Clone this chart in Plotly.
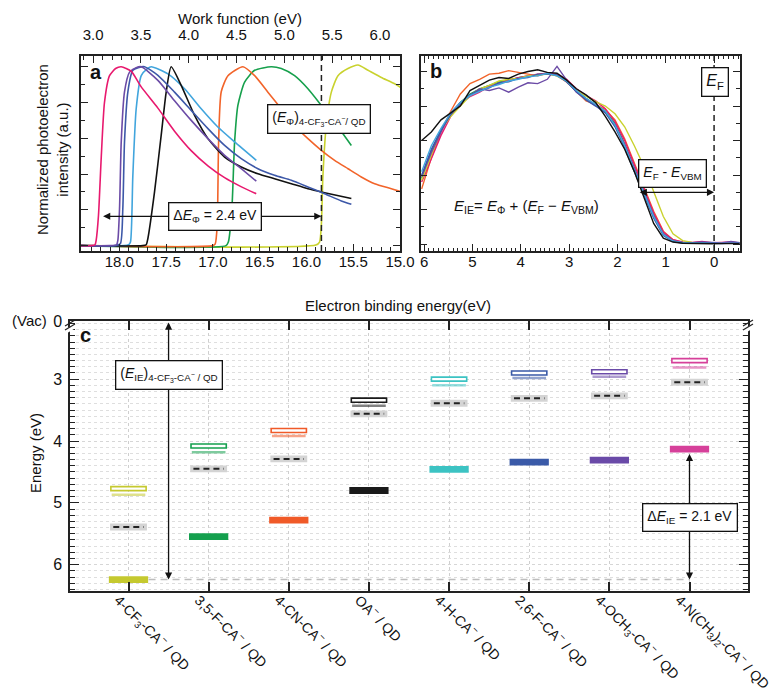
import plotly.graph_objects as go

FONT = "Liberation Sans, Arial, Helvetica, sans-serif"
W, H = 780, 700

# ---------------- Panel a: secondary-electron cutoff spectra ----------------
a_magenta_be = [18.41, 18.30, 18.26, 18.248, 18.223, 18.194, 18.159, 18.105, 18.04, 17.98, 17.874, 17.77, 17.59, 17.41, 17.23, 17.05, 16.875, 16.70, 16.537]
a_magenta_y = [0.0, 0.0, 0.005, 0.03, 0.17, 0.49, 0.80, 0.95, 0.99, 1.0, 0.975, 0.89, 0.77, 0.64, 0.53, 0.445, 0.38, 0.33, 0.29]
a_purple_be = [18.41, 18.10, 18.03, 18.016, 17.998, 17.98, 17.945, 17.891, 17.82, 17.766, 17.588, 17.41, 17.232, 17.053, 16.875, 16.697, 16.536]
a_purple_y = [0.0, 0.0, 0.005, 0.03, 0.207, 0.58, 0.86, 0.97, 0.995, 1.0, 0.924, 0.81, 0.70, 0.598, 0.505, 0.43, 0.36]
a_blue_be = [18.41, 18.05, 17.99, 17.963, 17.945, 17.909, 17.856, 17.80, 17.731, 17.588, 17.41, 17.232, 17.053, 16.875, 16.697, 16.519, 16.341, 16.162, 15.984, 15.806, 15.627, 15.52]
a_blue_y = [0.0, 0.0, 0.01, 0.207, 0.58, 0.86, 0.98, 0.995, 1.0, 0.952, 0.858, 0.756, 0.654, 0.56, 0.486, 0.43, 0.393, 0.365, 0.328, 0.29, 0.25, 0.231]
a_lblue_be = [18.41, 17.95, 17.90, 17.881, 17.856, 17.82, 17.766, 17.70, 17.659, 17.481, 17.303, 17.125, 16.947, 16.768, 16.536]
a_lblue_y = [0.0, 0.0, 0.005, 0.02, 0.39, 0.765, 0.95, 0.99, 1.0, 0.96, 0.877, 0.765, 0.663, 0.58, 0.477]
a_black_be = [18.41, 17.75, 17.713, 17.695, 17.624, 17.553, 17.499, 17.446, 17.339, 17.196, 17.053, 16.875, 16.697, 16.519, 16.341, 16.162, 15.984, 15.806, 15.52]
a_black_y = [0.0, 0.0, 0.005, 0.04, 0.30, 0.616, 0.86, 1.0, 0.896, 0.728, 0.598, 0.495, 0.44, 0.402, 0.374, 0.346, 0.318, 0.296, 0.263]
a_orange_be = [18.41, 17.0, 16.975, 16.954, 16.939, 16.911, 16.839, 16.679, 16.554, 16.412, 16.269, 16.127, 15.984, 15.841, 15.699, 15.556, 15.414, 15.271, 15.093, 14.914]
a_orange_y = [0.0, 0.0, 0.01, 0.114, 0.58, 0.86, 0.95, 1.0, 0.95, 0.858, 0.765, 0.672, 0.598, 0.533, 0.477, 0.43, 0.384, 0.346, 0.318, 0.29]
a_green_be = [18.41, 16.86, 16.835, 16.797, 16.768, 16.733, 16.661, 16.554, 16.376, 16.269, 16.127, 15.984, 15.841, 15.699, 15.52]
a_green_y = [0.0, 0.0, 0.02, 0.207, 0.58, 0.784, 0.914, 0.98, 1.0, 0.99, 0.95, 0.877, 0.784, 0.69, 0.56]
a_yellow_be = [18.41, 15.90, 15.86, 15.841, 15.824, 15.788, 15.734, 15.663, 15.556, 15.449, 15.342, 15.2, 15.057, 14.914]
a_yellow_y = [0.0, 0.003, 0.02, 0.114, 0.39, 0.672, 0.858, 0.95, 0.99, 1.01, 0.98, 0.94, 0.905, 0.858]
a_cutoff_cf3 = 15.84
a_cutoff_left = 18.19
a_xticks = [15.0, 15.5, 16.0, 16.5, 17.0, 17.5, 18.0]
a_wf_ticks = [3.0, 3.5, 4.0, 4.5, 5.0, 5.5, 6.0]
a_yticks = [0.0, 0.2, 0.4, 0.6, 0.8, 1.0]

# ---------------- Panel b: valence band spectra ----------------
b_be = [6.05, 5.85, 5.65, 5.45, 5.25, 5.05, 4.85, 4.65, 4.45, 4.25, 4.05, 3.85, 3.65, 3.45, 3.25, 3.05, 2.85,
        2.65, 2.45, 2.25, 2.05, 1.85, 1.65, 1.45, 1.25, 1.05, 0.85, 0.65, 0.45, 0.25, 0.05, -0.15, -0.35, -0.53]
b_orange = [0.32, 0.50, 0.65, 0.77, 0.87, 0.93, 0.955, 0.985, 0.99, 1.005, 0.995, 0.985, 0.975, 0.99, 0.975, 0.94, 0.885, 0.83, 0.81, 0.78, 0.72, 0.61, 0.47, 0.33, 0.19, 0.075, 0.025, 0.01, 0.008, 0.005, 0.007, 0.004, 0.006, 0.005]
b_green = [0.38, 0.54, 0.66, 0.755, 0.82, 0.87, 0.90, 0.92, 0.94, 0.95, 0.965, 0.975, 0.98, 0.99, 0.98, 0.945, 0.89, 0.845, 0.81, 0.77, 0.70, 0.58, 0.44, 0.31, 0.17, 0.06, 0.02, 0.008, 0.005, 0.004, 0.006, 0.005, 0.004, 0.006]
b_magenta = [0.36, 0.50, 0.63, 0.74, 0.81, 0.855, 0.88, 0.915, 0.93, 0.95, 0.965, 0.975, 0.985, 0.99, 0.985, 0.955, 0.90, 0.86, 0.83, 0.785, 0.71, 0.60, 0.46, 0.32, 0.18, 0.07, 0.025, 0.012, 0.01, 0.015, 0.008, 0.01, 0.012, 0.006]
b_yellow = [0.37, 0.52, 0.66, 0.74, 0.80, 0.86, 0.90, 0.92, 0.945, 0.955, 0.96, 0.975, 0.98, 0.985, 0.975, 0.945, 0.89, 0.855, 0.825, 0.80, 0.755, 0.68, 0.57, 0.45, 0.30, 0.16, 0.06, 0.02, 0.01, 0.008, 0.006, 0.008, 0.005, 0.006]
b_purple = [0.39, 0.53, 0.65, 0.76, 0.82, 0.86, 0.90, 0.89, 0.905, 0.88, 0.91, 0.935, 0.93, 0.955, 1.03, 0.95, 0.88, 0.84, 0.80, 0.765, 0.69, 0.575, 0.44, 0.305, 0.165, 0.06, 0.02, 0.01, 0.008, 0.012, 0.01, 0.007, 0.015, 0.008]
b_blue = [0.40, 0.55, 0.66, 0.75, 0.815, 0.865, 0.89, 0.905, 0.935, 0.94, 0.96, 0.965, 0.985, 0.985, 0.98, 0.94, 0.885, 0.835, 0.80, 0.76, 0.68, 0.56, 0.42, 0.29, 0.15, 0.05, 0.015, 0.006, 0.004, 0.008, 0.005, 0.003, 0.006, 0.005]
b_lblue = [0.42, 0.57, 0.67, 0.76, 0.82, 0.86, 0.885, 0.91, 0.925, 0.945, 0.955, 0.97, 0.975, 0.99, 0.975, 0.945, 0.89, 0.845, 0.81, 0.77, 0.69, 0.57, 0.43, 0.30, 0.16, 0.055, 0.018, 0.008, 0.005, 0.006, 0.004, 0.005, 0.006, 0.004]
b_black = [0.60, 0.65, 0.72, 0.76, 0.80, 0.89, 0.92, 0.95, 0.965, 0.96, 0.985, 1.00, 1.01, 0.995, 0.99, 0.95, 0.90, 0.865, 0.82, 0.74, 0.65, 0.55, 0.42, 0.27, 0.12, 0.035, 0.012, 0.005, 0.003, 0.004, 0.002, 0.003, 0.002, 0.003]
b_fermi = 0.0
b_vbm_arrow_start = 1.57
b_xticks = [0, 1, 2, 3, 4, 5, 6]
b_yticks = [0.0, 0.2, 0.4, 0.6, 0.8, 1.0]

# ---------------- Panel c: energy levels ----------------
c_labels = ["4-CF<sub>3</sub>-CA<sup>−</sup> / QD", "3,5-F-CA<sup>−</sup> / QD", "4-CN-CA<sup>−</sup> / QD",
            "OA<sup>−</sup> / QD", "4-H-CA<sup>−</sup> / QD", "2,6-F-CA<sup>−</sup> / QD",
            "4-OCH<sub>3</sub>-CA<sup>−</sup> / QD", "4-N(CH<sub>3</sub>)<sub>2</sub>-CA<sup>−</sup> / QD"]
c_pos = [0, 1, 2, 3, 4, 5, 6, 7]
c_ie = [6.24, 5.545, 5.28, 4.80, 4.46, 4.34, 4.31, 4.13]          # filled bars
c_cb = [4.77, 4.08, 3.83, 3.34, 3.00, 2.90, 2.88, 2.70]           # open rectangles
c_cb2 = [4.87, 4.18, 3.92, 3.43, 3.10, 2.98, 2.96, 2.81]          # light lines
c_ef = [5.39, 4.45, 4.29, 3.56, 3.39, 3.31, 3.27, 3.05]           # dashed gray
c_ytickvals = [2.06, 3, 4, 5, 6]
c_yticktext = ["0", "3", "4", "5", "6"]

col_a = dict(magenta="#e8196e", purple="#6b4ba6", blue="#3d58a8", lblue="#41a5dd",
             black="#111111", orange="#f2642a", green="#16a04c", yellow="#c9d22e")
col_c = ["#c5c92f", "#14a04e", "#f05a28", "#1a1a1a", "#3cc3c3", "#3a5aa8", "#6a4aa8", "#d6409a"]


def light(hx, a=0.55):
    r, g, b = int(hx[1:3], 16), int(hx[3:5], 16), int(hx[5:7], 16)
    return f"rgba({r},{g},{b},{a})"


def px(x):
    return x / W


def py(y):
    return 1 - y / H


fig = go.Figure()

# panel a traces
for be, yy, c in [(a_yellow_be, a_yellow_y, "yellow"), (a_green_be, a_green_y, "green"),
                  (a_orange_be, a_orange_y, "orange"), (a_lblue_be, a_lblue_y, "lblue"),
                  (a_black_be, a_black_y, "black"), (a_blue_be, a_blue_y, "blue"),
                  (a_purple_be, a_purple_y, "purple"), (a_magenta_be, a_magenta_y, "magenta")]:
    fig.add_trace(go.Scatter(x=be, y=yy, mode="lines", line=dict(color=col_a[c], width=1.6, shape="spline", smoothing=0.6),
                             xaxis="x", yaxis="y", showlegend=False, hoverinfo="skip"))
# invisible trace so the work-function axis is drawn
fig.add_trace(go.Scatter(x=[a_wf_ticks[0], a_wf_ticks[-1]], y=[None, None], mode="lines",
                         xaxis="x4", yaxis="y", showlegend=False, hoverinfo="skip"))

# panel b traces
for yy, c in [(b_orange, "orange"), (b_green, "green"), (b_magenta, "magenta"), (b_yellow, "yellow"),
              (b_purple, "purple"), (b_blue, "blue"), (b_lblue, "lblue"), (b_black, "black")]:
    fig.add_trace(go.Scatter(x=b_be, y=yy, mode="lines", line=dict(color=col_a[c], width=1.4),
                             xaxis="x2", yaxis="y2", showlegend=False, hoverinfo="skip"))

# panel c traces
fig.add_trace(go.Bar(x=c_pos, y=[0.11] * 8, base=[v - 0.055 for v in c_ef], width=0.46,
                     marker=dict(color="#d4d4d4", line=dict(width=0)), xaxis="x3", yaxis="y3",
                     showlegend=False, hoverinfo="skip"))
dx, dy = [], []
for i, v in zip(c_pos, c_ef):
    dx += [i - 0.19, i + 0.19, None]
    dy += [v, v, None]
fig.add_trace(go.Scatter(x=dx, y=dy, mode="lines", line=dict(color="#222", width=2, dash="6px,4px"),
                         xaxis="x3", yaxis="y3", showlegend=False, hoverinfo="skip"))
fig.add_trace(go.Bar(x=c_pos, y=[0.04] * 8, base=[v - 0.02 for v in c_cb2], width=0.42,
                     marker=dict(color=[light(c) for c in col_c], line=dict(width=0)),
                     xaxis="x3", yaxis="y3", showlegend=False, hoverinfo="skip"))
fig.add_trace(go.Bar(x=c_pos, y=[0.065] * 8, base=[v - 0.0325 for v in c_cb], width=0.44,
                     marker=dict(color="white", line=dict(width=1.6, color=col_c)),
                     xaxis="x3", yaxis="y3", showlegend=False, hoverinfo="skip"))
fig.add_trace(go.Bar(x=c_pos, y=[0.11] * 8, base=[v - 0.055 for v in c_ie], width=0.49,
                     marker=dict(color=col_c, line=dict(width=0)),
                     xaxis="x3", yaxis="y3", showlegend=False, hoverinfo="skip"))

LC = "#222"
tickfont = dict(family=FONT, size=15, color="#111")
NOGRID = "rgba(0,0,0,0)"


def axis(**kw):
    d = dict(showline=True, linecolor=LC, linewidth=1.5, ticks="inside", tickcolor=LC, tickwidth=1.2,
             showgrid=True, gridcolor=NOGRID, zeroline=False, automargin=False, tickfont=tickfont,
             tickmode="array")
    d.update(kw)
    return d


def minor(dt, t0=0, ln=4, **kw):
    d = dict(ticks="inside", ticklen=ln, tickmode="linear", dtick=dt, tick0=t0, tickcolor=LC, tickwidth=1,
             showgrid=True, gridcolor=NOGRID)
    d.update(kw)
    return d


dom_a_x = [px(73), px(392)]
dom_b_x = [px(412.7), px(731.7)]
dom_ab_y = [py(243), py(48)]
dom_c_x = [px(62), px(740)]
dom_c_y = [py(582.7), py(313)]

fig.update_layout(
    width=W, height=H, template="none", margin=dict(l=0, r=0, t=0, b=0),
    paper_bgcolor="white", plot_bgcolor="white", barmode="overlay", showlegend=False,
    font=dict(family=FONT, size=15, color="#111"),
    xaxis=axis(domain=dom_a_x, anchor="y", range=[18.41, 15.0], tickvals=a_xticks,
               ticktext=[f"{v:.1f}" for v in a_xticks], ticklen=7, mirror=True, ticklabelstandoff=-4,
               minor=minor(0.1, 15)),
    xaxis4=axis(overlaying="x", side="top", anchor="y", range=[2.874, 6.209], tickvals=a_wf_ticks,
                ticktext=[f"{v:.1f}" for v in a_wf_ticks], ticklen=7, ticklabelstandoff=8,
                minor=minor(0.1, 0)),
    yaxis=axis(domain=dom_ab_y, anchor="x", range=[-0.03, 1.06], tickvals=a_yticks, ticklen=7,
               showticklabels=False, mirror="ticks", minor=minor(0.1, 0)),
    xaxis2=axis(domain=dom_b_x, anchor="y2", range=[6.07, -0.53], tickvals=b_xticks,
                ticktext=[str(v) for v in b_xticks], ticklen=7, mirror="ticks", ticklabelstandoff=-4,
                minor=minor(0.1, 0, 3)),
    yaxis2=axis(domain=dom_ab_y, anchor="x2", range=[-0.04, 1.09], tickvals=b_yticks, ticklen=7,
                showticklabels=False, mirror="ticks", minor=minor(0.1, 0)),
    xaxis3=axis(domain=dom_c_x, anchor="y3", range=[-0.73, 7.73], tickvals=c_pos, ticktext=c_labels,
                tickangle=45, ticklen=9, tickwidth=1.5, mirror="ticks", ticklabeloverflow="allow",
                ticklabelshift=-10, ticklabelstandoff=-6,
                tickfont=dict(family=FONT, size=14, color="#111"),
                showgrid=True, gridcolor="#cfcfcf", griddash="dot", gridwidth=1),
    yaxis3=axis(domain=dom_c_y, anchor="x3", range=[6.42, 2.06], tickvals=c_ytickvals,
                ticktext=c_yticktext, ticklen=9, mirror="ticks", ticklabelstandoff=3,
                tickfont=dict(family=FONT, size=16, color="#111"),
                showgrid=True, gridcolor="#d6d6d6", griddash="dot", gridwidth=1,
                minor=minor(0.1, 0, 5, showgrid=True, gridcolor="#dedede", griddash="dot", gridwidth=1)),
)

shapes = [
    dict(type="line", xref="x", yref="y domain", x0=a_cutoff_cf3, x1=a_cutoff_cf3, y0=0, y1=1,
         line=dict(color="#222", width=1.5, dash="6px,4px")),
    dict(type="line", xref="x2", yref="y2 domain", x0=b_fermi, x1=b_fermi, y0=0, y1=1,
         line=dict(color="#222", width=1.5, dash="6px,4px")),
    dict(type="line", xref="x3", yref="y3", x0=0.25, x1=7.0, y0=c_ie[0], y1=c_ie[0],
         line=dict(color="#bdbdbd", width=1.5, dash="7px,5px")),
]
# axis break marks on panel c
for xc in (62, 740):
    shapes.append(dict(type="line", xref="paper", yref="paper", x0=px(xc - 5), x1=px(xc + 5),
                       y0=py(324), y1=py(318), line=dict(color="white", width=4)))
    for off in (0, 4):
        shapes.append(dict(type="line", xref="paper", yref="paper", x0=px(xc - 5), x1=px(xc + 5),
                           y0=py(322 + off - 4), y1=py(316 + off - 4), line=dict(color="#222", width=1.2)))
fig.update_layout(shapes=shapes)

ann = []


def text(x, y, t, size=15, **kw):
    d = dict(x=x, y=y, text=t, showarrow=False, font=dict(family=FONT, size=size, color="#111"),
             xref="paper", yref="paper", xanchor="center", yanchor="middle")
    d.update(kw)
    ann.append(d)


text(px(232), py(11), "Work function (eV)", 15)
text(px(390), py(297), "Electron binding energy(eV)", 15)
text(px(44), py(142), "Normalized photoelectron<br>intensity (a.u.)", 15, textangle=-90)
text(px(27), py(445), "Energy (eV)", 15, textangle=-90)
text(px(21), py(313), "(Vac)", 15)
text(px(88), py(64), "<b>a</b>", 20)
text(px(428), py(63), "<b>b</b>", 20)
text(px(77), py(327), "<b>c</b>", 20)

box = dict(bordercolor="#111", borderwidth=1.3, bgcolor="white", borderpad=4)

# panel a
ann.append(dict(x=a_cutoff_cf3, y=0.164, ax=a_cutoff_left, ay=0.164, xref="x", yref="y", axref="x", ayref="y",
                text="", showarrow=True, arrowhead=2, startarrowhead=2, arrowside="end+start",
                arrowwidth=1.3, arrowsize=1.1, arrowcolor="#111"))
text(16.98, 0.164, "Δ<i>E</i><sub>Φ</sub> = 2.4 eV", 14, xref="x", yref="y", **box)
text(15.87, 0.71, "(<i>E</i><sub>Φ</sub>)<sub>4-CF<sub>3</sub>-CA<sup>−</sup>/ QD</sub>", 14, xref="x", yref="y", **box)

# panel b
ann.append(dict(x=b_fermi, y=0.30, ax=b_vbm_arrow_start, ay=0.30, xref="x2", yref="y2", axref="x2", ayref="y2",
                text="", showarrow=True, arrowhead=2, startarrowhead=2, arrowside="end+start",
                arrowwidth=1.3, arrowsize=1.1, arrowcolor="#111"))
text(0.865, 0.41, "<i>E</i><sub>F</sub> - <i>E</i><sub>VBM</sub>", 14, xref="x2", yref="y2", **box)
text(-0.01, 0.94, "<i>E</i><sub>F</sub>", 16, xref="x2", yref="y2", **box)
text(3.89, 0.22, "<i>E</i><sub>IE</sub>= <i>E</i><sub>Φ</sub> + (<i>E</i><sub>F</sub> − <i>E</i><sub>VBM</sub>)", 15,
     xref="x2", yref="y2")

# panel c
ann.append(dict(x=0.5, y=c_ie[0], ax=0.5, ay=2.06, xref="x3", yref="y3", axref="x3", ayref="y3",
                text="", showarrow=True, arrowhead=2, startarrowhead=2, arrowside="end+start",
                arrowwidth=1.3, arrowsize=1.1, arrowcolor="#111"))
ann.append(dict(x=7, y=c_ie[0], ax=7, ay=c_ie[7] + 0.055, xref="x3", yref="y3", axref="x3", ayref="y3",
                text="", showarrow=True, arrowhead=2, startarrowhead=2, arrowside="end+start",
                arrowwidth=1.3, arrowsize=1.1, arrowcolor="#111"))
text(0.5, 2.94, "(<i>E</i><sub>IE</sub>)<sub>4-CF<sub>3</sub>-CA<sup>−</sup> / QD</sub>", 14, xref="x3", yref="y3", **box)
text(7, 5.24, "Δ<i>E</i><sub>IE</sub> = 2.1 eV", 14, xref="x3", yref="y3", **box)

fig.update_layout(annotations=ann)
fig.write_html("out.html")
